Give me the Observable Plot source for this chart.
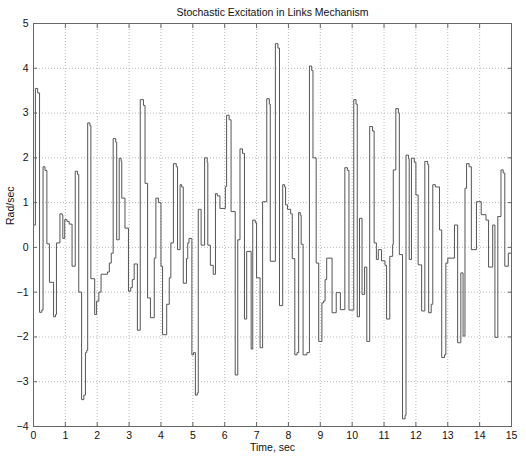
<!DOCTYPE html>
<html>
<head>
<meta charset="utf-8">
<script src="https://cdn.jsdelivr.net/npm/d3@7"></script>
<script src="https://cdn.jsdelivr.net/npm/@observablehq/plot@0.6"></script>
<style>
  html, body { margin: 0; padding: 0; background: #fff; }
  svg { display: block; }
</style>
</head>
<body>
<div id="chart"></div>
<script>
const title = "Stochastic Excitation in Links Mechanism";
const xLabel = "Time, sec";
const yLabel = "Rad/sec";
const xTicks = [0,1,2,3,4,5,6,7,8,9,10,11,12,13,14,15];
const yTicks = [-4,-3,-2,-1,0,1,2,3,4,5];

// step times (s) and held values (rad/sec)
const times = [
  0, 0.06, 0.13, 0.19, 0.26, 0.30, 0.36, 0.42, 0.50, 0.63, 0.69, 0.72, 0.83, 0.90, 0.92, 0.98,
  1.05, 1.12, 1.21, 1.31, 1.38, 1.42, 1.51, 1.58, 1.63, 1.67, 1.70, 1.77, 1.80, 1.92, 1.98,
  2.05, 2.12, 2.32, 2.38, 2.44, 2.50, 2.58, 2.61, 2.69, 2.75, 2.77, 2.87, 2.98,
  3.05, 3.10, 3.16, 3.26, 3.35, 3.45, 3.50, 3.58, 3.67, 3.79, 3.84, 3.92,
  4.00, 4.05, 4.18, 4.26, 4.31, 4.39, 4.48, 4.52, 4.60, 4.65, 4.70, 4.80, 4.84, 4.88, 4.97,
  5.02, 5.08, 5.14, 5.17, 5.26, 5.37, 5.45, 5.47, 5.55, 5.64, 5.71, 5.77, 5.85,
  6.02, 6.06, 6.14, 6.20, 6.33, 6.41, 6.48, 6.56, 6.62, 6.69, 6.83, 6.88, 6.96,
  7.00, 7.11, 7.19, 7.32, 7.40, 7.43, 7.59, 7.67, 7.72, 7.82, 7.88, 7.91, 7.97,
  8.07, 8.12, 8.20, 8.27, 8.32, 8.37, 8.40, 8.46, 8.58, 8.66, 8.73, 8.77, 8.87, 8.95,
  9.05, 9.10, 9.15, 9.20, 9.37, 9.50, 9.63, 9.77, 9.85, 9.90,
  10.05, 10.12, 10.16, 10.23, 10.31, 10.39, 10.46, 10.55, 10.64, 10.69, 10.76, 10.82, 10.92,
  11.03, 11.08, 11.18, 11.27, 11.29, 11.37, 11.45, 11.48, 11.58, 11.66, 11.69, 11.77, 11.79, 11.86, 11.95,
  12.00, 12.07, 12.18, 12.28, 12.37, 12.40, 12.48, 12.53, 12.61, 12.74, 12.81, 12.90, 12.94,
  13.00, 13.21, 13.31, 13.41, 13.48, 13.54, 13.59, 13.67, 13.74, 13.90,
  14.05, 14.20, 14.28, 14.41, 14.48, 14.57, 14.67, 14.74, 14.79, 14.90, 15.00
];
const values = [
  0.5, 3.55, 3.45, -1.45, -1.4, 1.8, 1.72, 0.08, -0.78, -1.55, -1.5, 0.1, 0.75, 0.72, 0.2, 0.62,
  0.58, 0.52, -0.42, 1.7, 1.63, -1.0, -3.4, -3.3, -2.35, -2.3, 2.78, 2.72, -0.7, -1.5, -1.2,
  -1.0, -0.6, -0.55, -0.35, -0.13, 2.43, 2.35, 0.17, 1.99, 1.92, 1.1, 0.43, -0.98,
  -0.9, -0.72, -0.37, -1.85, 3.3, 3.17, 1.43, -1.13, -1.57, -0.24, 1.1, 1.0,
  -0.42, -1.95, -1.27, -0.68, 0.1, 1.87, 1.8, -0.05, 1.4, 1.35, -0.8, -0.25, 0.1, 0.2, -2.4,
  -2.35, -3.3, -3.25, 0.85, 0.05, 2.0, 1.9, 0.05, -0.4, -0.6, 1.2, 1.15, 0.87,
  1.36, 2.95, 2.85, 0.8, -2.85, 0.17, 2.2, 2.1, -1.6, -0.09, -2.27, 0.61, 0.55,
  -0.68, -2.24, 1.02, 3.32, 3.2, -0.31, 4.55, 4.45, -1.3, 1.4, 1.35, 0.95, 0.85,
  0.75, -0.25, -2.4, -2.35, 0.78, 0.72, 0.07, -2.4, -2.35, 4.05, 3.95, 2.0, -0.35, -2.1,
  -1.24, -1.2, -0.72, -0.24, -1.46, -1.01, -1.39, 1.78, 1.72, -1.4,
  3.3, 3.2, -1.55, 0.65, -1.05, -0.44, -2.1, 2.7, 2.6, 0.1, -0.27, -0.05, -0.3,
  -0.4, -1.6, -0.2, 0.06, 1.73, 3.1, 3.0, -0.16, -3.83, -3.75, 2.06, 1.98, -0.27, 1.99, 1.9,
  1.17, -0.39, -1.42, 1.92, 1.85, -1.46, -1.27, 1.4, 1.35, 0.39, -2.46, -2.4, -0.35,
  -0.24, 0.5, -2.13, -0.57, -1.98, 1.32, 1.87, 1.8, -0.05, 1.02,
  0.73, 0.61, -0.44, 0.5, -2.01, 0.69, 1.73, 1.66, -0.42, -0.13, -0.13
];

const data = times.map((t, i) => ({t, v: values[i]}));
const font = "'Liberation Sans', Arial, Helvetica, sans-serif";

const chart = Plot.plot({
  width: 526,
  height: 461,
  marginLeft: 33,
  marginRight: 15,
  marginTop: 23,
  marginBottom: 35,
  style: {fontFamily: font, fontSize: "10.5px", color: "#111", background: "#fff"},
  x: {domain: [0, 15], ticks: xTicks},
  y: {domain: [-4, 5], ticks: yTicks},
  marks: [
    Plot.gridX(xTicks, {stroke: "#999", strokeOpacity: 1, strokeWidth: 0.7, strokeDasharray: "1,2"}),
    Plot.gridY(yTicks, {stroke: "#999", strokeOpacity: 1, strokeWidth: 0.7, strokeDasharray: "1,2"}),
    Plot.line(data, {x: "t", y: "v", curve: "step-after", stroke: "#555", strokeWidth: 1}),
    Plot.frame({stroke: "#666"}),
    Plot.axisX(xTicks, {anchor: "bottom", tickSize: -4, tickPadding: 9, label: null, stroke: "#666"}),
    Plot.axisX(xTicks, {anchor: "top", tickSize: -4, tickFormat: () => "", label: null, stroke: "#666"}),
    Plot.axisY(yTicks, {anchor: "left", tickSize: -4, tickPadding: 9, label: null, stroke: "#666"}),
    Plot.axisY(yTicks, {anchor: "right", tickSize: -4, tickFormat: () => "", label: null, stroke: "#666"}),
    Plot.text([title], {frameAnchor: "top", dy: -15, fontSize: 10.5, fill: "#111"}),
    Plot.text([xLabel], {frameAnchor: "bottom", dy: 24, fontSize: 10.5, fill: "#111"}),
    Plot.text([yLabel], {frameAnchor: "left", dx: -23, rotate: -90, fontSize: 10.5, fill: "#111"})
  ]
});
document.getElementById("chart").appendChild(chart);
</script>
</body>
</html>
